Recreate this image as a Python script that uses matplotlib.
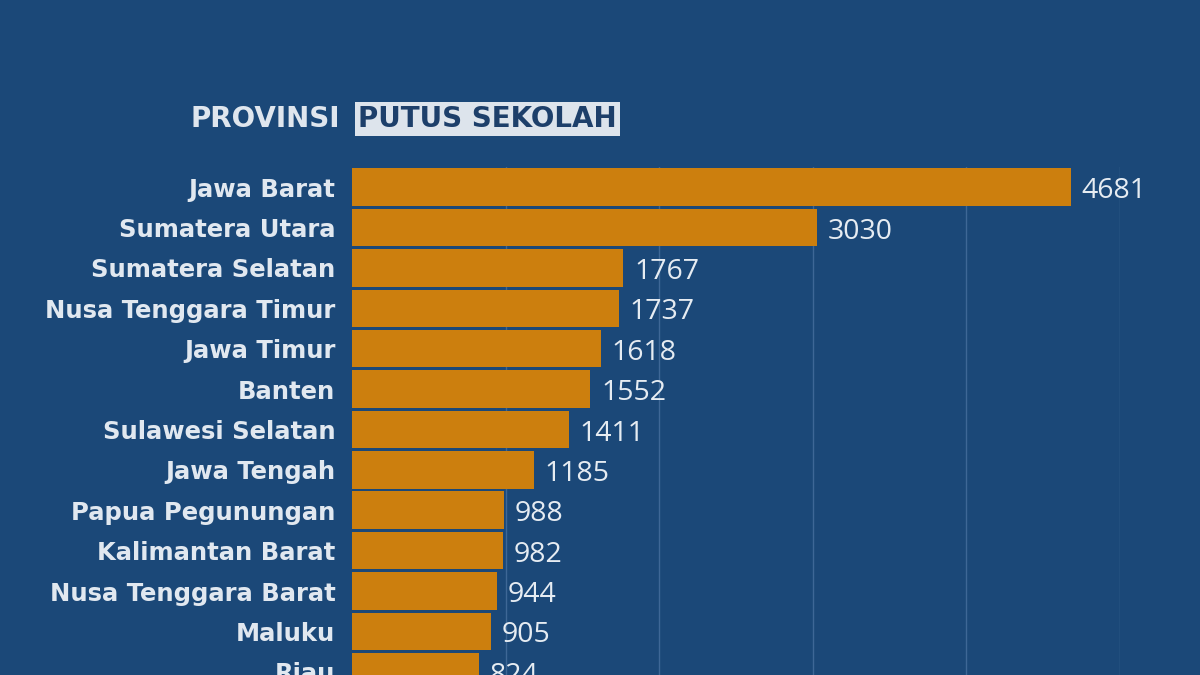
import matplotlib.pyplot as plt

provinces = ["Jawa Barat", "Sumatera Utara", "Sumatera Selatan", "Nusa Tenggara Timur",
             "Jawa Timur", "Banten", "Sulawesi Selatan", "Jawa Tengah", "Papua Pegunungan",
             "Kalimantan Barat", "Nusa Tenggara Barat", "Maluku", "Riau"]
values = [4681, 3030, 1767, 1737, 1618, 1552, 1411, 1185, 988, 982, 944, 905, 824]

bg = "#1b4878"
fig = plt.figure(figsize=(12, 6.75), dpi=100, facecolor=bg)
ax = fig.add_axes([352/1200, 0, 768/1200, 508/675])
ax.set_facecolor(bg)
ys = list(range(len(values)))
ax.barh(ys, values, height=0.93, color="#cc7f0e", zorder=3)
ax.set_xlim(0, 5000)
ax.set_ylim(12.08, -0.5)
for gx in [1000, 2000, 3000, 4000, 5000]:
    ax.axvline(gx, color="#3e6796", lw=1, zorder=1)
for y, v in zip(ys, values):
    ax.text(v + 70, y + 0.1, str(v), color="#e6ecf2", fontsize=20.5, va="center",
            ha="left", family="Open Sans", zorder=4)
ax.set_yticks(ys)
ax.set_yticklabels(provinces, color="#e1e8f0", fontsize=17.5, fontweight="bold",
                   family="DejaVu Sans")
ax.tick_params(axis="y", length=0, pad=12)
ax.set_xticks([])
for s in ax.spines.values():
    s.set_visible(False)

fig.text(340/1200, 1 - 119/675, "PROVINSI", color="#dfe6ee", fontsize=20,
         fontweight="bold", family="DejaVu Sans", ha="right", va="center")
fig.text(358/1200, 1 - 119/675, "PUTUS SEKOLAH", color="#1d3f6a", fontsize=20,
         fontweight="bold", family="DejaVu Sans", ha="left", va="center",
         bbox=dict(boxstyle="square,pad=0.12", fc="#dde4ec", ec="none"))
fig.savefig("out.png", facecolor=bg)
